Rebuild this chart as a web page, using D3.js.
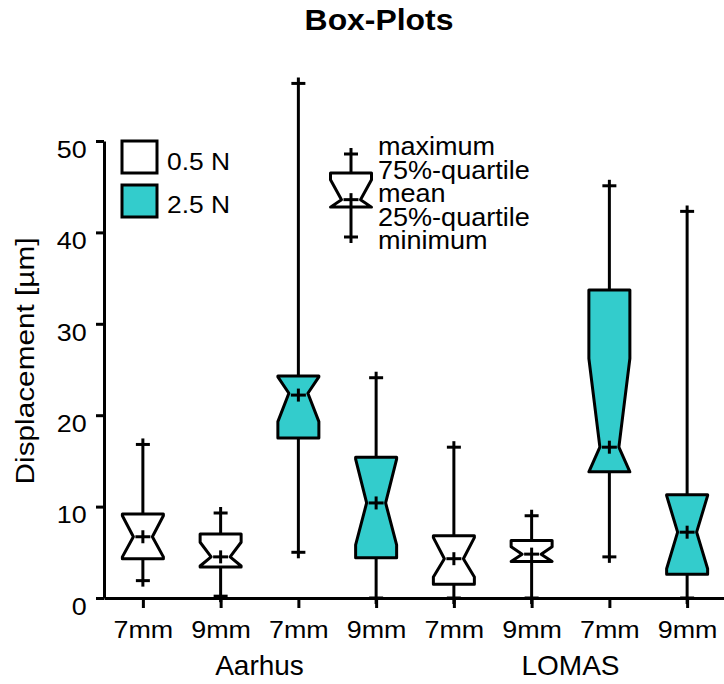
<!DOCTYPE html>
<html>
<head>
<meta charset="utf-8">
<script src="https://cdn.jsdelivr.net/npm/d3@7"></script>
<style>
  body { margin: 0; background: #fff; }
  text { font-family: "Liberation Sans", Arial, sans-serif; fill: #000; }
</style>
</head>
<body>
<svg id="chart" width="724" height="684"></svg>
<script>
// data
var groups = ["Aarhus", "LOMAS"];
var sizes = ["7mm", "9mm", "7mm", "9mm", "7mm", "9mm", "7mm", "9mm"];
var forces = ["0.5 N", "0.5 N", "2.5 N", "2.5 N", "0.5 N", "0.5 N", "2.5 N", "2.5 N"];
var maximum  = [16.8, 9.3, 56.3, 24.1, 16.5, 9.0, 45.1, 42.3];
var quart75  = [9.2, 7.0, 24.3, 15.4, 6.8, 6.3, 33.7, 11.3];
var notchHi  = [9.0, 6.1, 24.2, 15.2, 6.6, 5.6, 26.2, 11.2];
var median   = [6.7, 4.5, 22.4, 10.4, 4.3, 4.8, 16.5, 7.2];
var notchLo  = [4.5, 3.5, 19.3, 5.8, 2.3, 4.0, 13.8, 3.2];
var quart25  = [4.3, 3.4, 17.5, 4.4, 1.5, 4.0, 13.8, 2.6];
var minimum  = [1.9, 0.2, 5.0, 0.0, 0.0, 0.0, 4.5, 0.0];
var mean     = [6.7, 4.5, 22.2, 10.4, 4.3, 4.8, 16.5, 7.2];
var yTicks = [0, 10, 20, 30, 40, 50];
var forceNames = ["0.5 N", "2.5 N"];
var legendLines = ["maximum", "75%-quartile", "mean", "25%-quartile", "minimum"];

var colors = { "0.5 N": "#ffffff", "2.5 N": "#33cccc" };

var svg = d3.select("#chart");
var plotLeft = 104, plotRight = 726, plotTop = 141, plotBottom = 598;

var x = d3.scalePoint().domain(d3.range(sizes.length)).range([plotLeft, plotRight]).padding(0.5);
var y = d3.scaleLinear().domain([0, 50]).range([plotBottom, plotTop]);

// helper for slightly wide text, like the original
function label(g, tx, ty, txt, size, sx, anchor, weight) {
  return g.append("text")
    .attr("transform", "translate(" + tx + "," + ty + ") scale(" + sx + ",1)")
    .attr("text-anchor", anchor)
    .style("font-size", size + "px")
    .style("font-weight", weight || "normal")
    .text(txt);
}

label(svg, 379, 30, "Box-Plots", 29, 1.1, "middle", "bold");

// axes
var yAxis = svg.append("g")
  .attr("transform", "translate(" + plotLeft + ",0)")
  .call(d3.axisLeft(y).tickValues(yTicks).tickSize(8).tickSizeOuter(0));
yAxis.selectAll("text")
  .attr("x", -15.5).attr("dy", "0.68em")
  .attr("transform", "scale(1.12,1)")
  .style("font-size", "24px");

var xAxis = svg.append("g")
  .attr("transform", "translate(0," + plotBottom + ")")
  .call(d3.axisBottom(x).tickSize(10).tickSizeOuter(0).tickFormat(function(i) { return sizes[i]; }));
xAxis.selectAll("text")
  .attr("y", 40).attr("dy", 0)
  .attr("transform", "scale(1.12,1)")
  .style("font-size", "24px");

svg.selectAll(".domain, .tick line").attr("stroke", "#000").attr("stroke-width", 3);
svg.selectAll(".tick text").attr("fill", "#000").style("font-family", "\"Liberation Sans\", Arial, sans-serif");

groups.forEach(function(gname, k) {
  var cx = (x(k * 4) + x(k * 4 + 3)) / 2;
  label(svg, cx, 675, gname, 28, 1.0, "middle");
});

svg.append("text")
  .attr("transform", "translate(34,361) rotate(-90) scale(1.19,1)")
  .attr("text-anchor", "middle")
  .style("font-size", "25px")
  .text("Displacement [\u00b5m]");

// one notched box with whiskers, caps and mean cross
var hw = 20.5, ww = 9.5;
var line = d3.line();
function drawBox(g, cx, sc, d, fill) {
  // whiskers with + caps
  g.append("line").attr("x1", cx).attr("x2", cx)
    .attr("y1", sc(d.q3)).attr("y2", sc(d.max) - 6);
  g.append("line").attr("x1", cx - 7).attr("x2", cx + 7)
    .attr("y1", sc(d.max)).attr("y2", sc(d.max));
  g.append("line").attr("x1", cx).attr("x2", cx)
    .attr("y1", sc(d.q1)).attr("y2", sc(d.min) + 6);
  g.append("line").attr("x1", cx - 7).attr("x2", cx + 7)
    .attr("y1", sc(d.min)).attr("y2", sc(d.min));
  var pts = [
    [cx - hw, sc(d.q3)], [cx + hw, sc(d.q3)], [cx + hw, sc(d.nHi)], [cx + ww, sc(d.med)],
    [cx + hw, sc(d.nLo)], [cx + hw, sc(d.q1)], [cx - hw, sc(d.q1)], [cx - hw, sc(d.nLo)],
    [cx - ww, sc(d.med)], [cx - hw, sc(d.nHi)]
  ];
  g.append("path").attr("d", line(pts) + "Z").attr("fill", fill);
  // mean
  g.append("line").attr("x1", cx - 7.5).attr("x2", cx + 7.5)
    .attr("y1", sc(d.mean)).attr("y2", sc(d.mean));
  g.append("line").attr("x1", cx).attr("x2", cx)
    .attr("y1", sc(d.mean) - 6.5).attr("y2", sc(d.mean) + 6.5);
}

var plot = svg.append("g")
  .attr("stroke", "#000").attr("stroke-width", 3)
  .attr("stroke-linejoin", "round");

sizes.forEach(function(s, i) {
  var d = { max: maximum[i], q3: quart75[i], nHi: notchHi[i], med: median[i],
            nLo: notchLo[i], q1: quart25[i], min: minimum[i], mean: mean[i] };
  drawBox(plot.append("g"), x(i), y, d, colors[forces[i]]);
});

// legend: fill colours
var leg = svg.append("g");
forceNames.forEach(function(f, i) {
  leg.append("rect")
    .attr("x", 122).attr("y", 141 + i * 44).attr("width", 35).attr("height", 32)
    .attr("fill", colors[f]).attr("stroke", "#000").attr("stroke-width", 3);
  label(leg, 167, 170 + i * 43, f, 24, 1.1, "start");
});

// legend: box explanation
var gy = d3.scaleLinear().domain([0, 10]).range([237, 154]);
var glyph = { max: 10, q3: 7.7, nHi: 6.9, med: 4.5, nLo: 3.6, q1: 3.6, min: 0, mean: 4.5 };
drawBox(svg.append("g").attr("stroke", "#000").attr("stroke-width", 3).attr("stroke-linejoin", "round"),
  351, gy, glyph, "#ffffff");
legendLines.forEach(function(t, i) {
  label(leg, 378, 155 + i * 23.5, t, 26, 1.04, "start");
});
</script>
</body>
</html>
